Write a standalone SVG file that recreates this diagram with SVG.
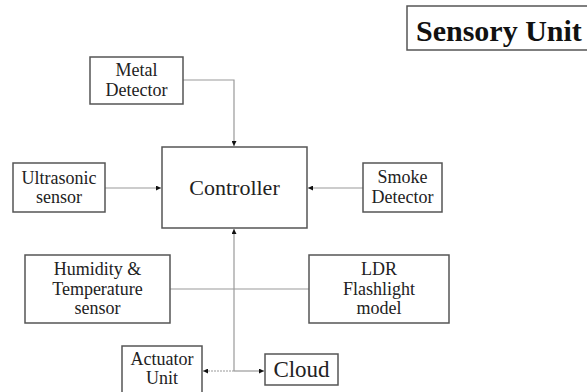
<svg xmlns="http://www.w3.org/2000/svg" width="587" height="392" viewBox="0 0 587 392">
<style>
.box{fill:#fff;stroke:#555;stroke-width:1.5}
.t{font-family:"Liberation Serif",serif;font-size:18px;fill:#222;text-anchor:middle}
.c{fill:none;stroke:#999;stroke-width:1.2}
</style>
<defs>
<marker id="ah" viewBox="0 0 6 6" refX="6" refY="3" markerWidth="5" markerHeight="5" orient="auto" markerUnits="userSpaceOnUse">
<path d="M0,0 L6,3 L0,6 Z" fill="#111"/>
</marker>
</defs>
<rect width="587" height="392" fill="#fff"/>
<g id="connectors">
<path class="c" d="M183,80 H234 V146" marker-end="url(#ah)"/>
<path class="c" d="M105,188 H161" marker-end="url(#ah)"/>
<path class="c" d="M363,188 H308" marker-end="url(#ah)"/>
<path class="c" d="M170,289 H309"/>
<path class="c" d="M234,371 V229" marker-end="url(#ah)"/>
<path class="c" d="M234,371 H264" stroke="#777" marker-end="url(#ah)"/>
<path class="c" d="M234,371 H203" stroke="#bbb" stroke-dasharray="2,1" marker-end="url(#ah)"/>
</g>
<g id="sensory-unit">
<rect class="box" x="407" y="6" width="186" height="44"/>
<text x="416" y="41" style="font-family:'Liberation Serif',serif;font-size:30px;font-weight:bold;fill:#111">Sensory Unit</text>
</g>
<g id="metal-detector">
<rect class="box" x="90" y="57" width="93" height="47"/>
<text class="t" x="136.5" y="76">Metal</text>
<text class="t" x="136.5" y="96">Detector</text>
</g>
<g id="controller">
<rect class="box" x="162" y="147" width="145" height="81"/>
<text class="t" x="234.5" y="195" style="font-size:22px">Controller</text>
</g>
<g id="ultrasonic">
<rect class="box" x="13" y="163" width="92" height="49"/>
<text class="t" x="59" y="184">Ultrasonic</text>
<text class="t" x="59" y="203">sensor</text>
</g>
<g id="smoke-detector">
<rect class="box" x="363" y="163" width="79" height="49"/>
<text class="t" x="402.5" y="183">Smoke</text>
<text class="t" x="402.5" y="203">Detector</text>
</g>
<g id="humidity">
<rect class="box" x="25" y="255" width="145" height="68"/>
<text class="t" x="97.5" y="275">Humidity &amp;</text>
<text class="t" x="97.5" y="295">Temperature</text>
<text class="t" x="97.5" y="314">sensor</text>
</g>
<g id="ldr">
<rect class="box" x="309" y="255" width="140" height="68"/>
<text class="t" x="379" y="275">LDR</text>
<text class="t" x="379" y="295">Flashlight</text>
<text class="t" x="379" y="314">model</text>
</g>
<g id="actuator">
<rect class="box" x="122" y="346" width="80" height="50"/>
<text class="t" x="162" y="365">Actuator</text>
<text class="t" x="162" y="384">Unit</text>
</g>
<g id="cloud">
<rect class="box" x="265" y="354" width="73" height="31"/>
<text class="t" x="301.5" y="377" style="font-size:23px">Cloud</text>
</g>
</svg>
